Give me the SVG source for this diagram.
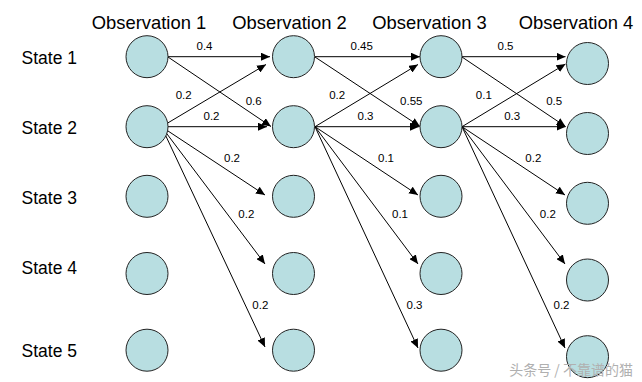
<svg xmlns="http://www.w3.org/2000/svg" width="642" height="382" viewBox="0 0 642 382">
<style>
.node{fill:#B8DEE1;stroke:#222;stroke-width:1}
.hdr{font-family:"Liberation Sans",Arial,sans-serif;font-size:18.4px;fill:#000;text-anchor:middle}
.st{font-family:"Liberation Sans",Arial,sans-serif;font-size:17.5px;fill:#000}
.lbl{font-family:"Liberation Sans",Arial,sans-serif;font-size:11.5px;fill:#000;text-anchor:middle}
.e{stroke:#000;stroke-width:1;fill:none;marker-end:url(#ah)}
.wm{font-family:"Noto Sans CJK SC",sans-serif;font-size:14px;fill:#b0b0b0;text-anchor:end}
</style>
<defs>
<marker id="ah" markerUnits="userSpaceOnUse" markerWidth="10" markerHeight="8" refX="9" refY="4" orient="auto">
<path d="M0,0 L9,4 L0,8 Z" fill="#000"/>
</marker>
</defs>
<rect width="642" height="382" fill="#fff"/>
<g id="headers">
<text class="hdr" x="149" y="29">Observation 1</text>
<text class="hdr" x="289.5" y="29">Observation 2</text>
<text class="hdr" x="429.5" y="29">Observation 3</text>
<text class="hdr" x="576" y="29">Observation 4</text>
</g>
<g id="states">
<text class="st" x="21.5" y="63.5">State 1</text>
<text class="st" x="21.5" y="133.5">State 2</text>
<text class="st" x="21.5" y="203.5">State 3</text>
<text class="st" x="21.5" y="273.5">State 4</text>
<text class="st" x="21.5" y="357">State 5</text>
</g>
<g id="connectors">
<line class="e" x1="168" y1="56.7" x2="270" y2="56.7"/>
<line class="e" x1="168" y1="57" x2="271" y2="126.5"/>
<line class="e" x1="161.5" y1="126.7" x2="266" y2="64.5"/>
<line class="e" x1="161.5" y1="126.7" x2="267" y2="126.7"/>
<line class="e" x1="161.5" y1="126.7" x2="265" y2="195"/>
<line class="e" x1="161.5" y1="126.7" x2="265" y2="264"/>
<line class="e" x1="161.5" y1="126.7" x2="265" y2="347"/>
<line class="e" x1="315" y1="56.7" x2="420" y2="56.7"/>
<line class="e" x1="315" y1="57" x2="420" y2="126.5"/>
<line class="e" x1="315" y1="126.7" x2="418" y2="64.5"/>
<line class="e" x1="315" y1="126.7" x2="419" y2="126.7"/>
<line class="e" x1="315" y1="126.7" x2="418" y2="195"/>
<line class="e" x1="315" y1="126.7" x2="418" y2="264"/>
<line class="e" x1="315" y1="126.7" x2="418" y2="348"/>
<line class="e" x1="462" y1="56.7" x2="565.5" y2="56.7"/>
<line class="e" x1="462" y1="57" x2="565.5" y2="126.5"/>
<line class="e" x1="462" y1="126.7" x2="565.5" y2="64"/>
<line class="e" x1="462" y1="126.7" x2="565.5" y2="126.7"/>
<line class="e" x1="462" y1="126.7" x2="565" y2="195"/>
<line class="e" x1="462" y1="126.7" x2="565" y2="264"/>
<line class="e" x1="462" y1="126.7" x2="565" y2="348"/>
</g>
<g id="edge-labels">
<text class="lbl" x="204.5" y="50">0.4</text>
<text class="lbl" x="183.7" y="99">0.2</text>
<text class="lbl" x="253.7" y="105">0.6</text>
<text class="lbl" x="211.5" y="120">0.2</text>
<text class="lbl" x="232" y="161.7">0.2</text>
<text class="lbl" x="246.3" y="217.7">0.2</text>
<text class="lbl" x="260.3" y="309">0.2</text>
<text class="lbl" x="361.7" y="50">0.45</text>
<text class="lbl" x="337.2" y="99">0.2</text>
<text class="lbl" x="411.3" y="105">0.55</text>
<text class="lbl" x="365.5" y="120">0.3</text>
<text class="lbl" x="386" y="161.7">0.1</text>
<text class="lbl" x="400" y="217.7">0.1</text>
<text class="lbl" x="414.5" y="309">0.3</text>
<text class="lbl" x="505.5" y="50">0.5</text>
<text class="lbl" x="483.8" y="99">0.1</text>
<text class="lbl" x="554.2" y="105">0.5</text>
<text class="lbl" x="512.2" y="120">0.3</text>
<text class="lbl" x="533.3" y="161.7">0.2</text>
<text class="lbl" x="547.8" y="217.7">0.2</text>
<text class="lbl" x="561.5" y="309">0.2</text>
</g>
<g id="o1s1"><circle class="node" cx="147" cy="56.7" r="21"/></g>
<g id="o1s2"><circle class="node" cx="147" cy="126.7" r="21"/></g>
<g id="o1s3"><circle class="node" cx="147" cy="196.3" r="21"/></g>
<g id="o1s4"><circle class="node" cx="147" cy="273.5" r="21"/></g>
<g id="o1s5"><circle class="node" cx="147" cy="350.2" r="21"/></g>
<g id="o2s1"><circle class="node" cx="293.5" cy="56.7" r="21"/></g>
<g id="o2s2"><circle class="node" cx="293.5" cy="126.7" r="21"/></g>
<g id="o2s3"><circle class="node" cx="293.5" cy="196.3" r="21"/></g>
<g id="o2s4"><circle class="node" cx="293.5" cy="273.5" r="21"/></g>
<g id="o2s5"><circle class="node" cx="293.5" cy="350.2" r="21"/></g>
<g id="o3s1"><circle class="node" cx="441" cy="56.7" r="21"/></g>
<g id="o3s2"><circle class="node" cx="441" cy="126.7" r="21"/></g>
<g id="o3s3"><circle class="node" cx="441" cy="196.3" r="21"/></g>
<g id="o3s4"><circle class="node" cx="441" cy="273.5" r="21"/></g>
<g id="o3s5"><circle class="node" cx="441" cy="350.2" r="21"/></g>
<g id="o4s1"><circle class="node" cx="587.5" cy="63.5" r="21"/></g>
<g id="o4s2"><circle class="node" cx="587.5" cy="133.5" r="21"/></g>
<g id="o4s3"><circle class="node" cx="587.5" cy="203.3" r="21"/></g>
<g id="o4s4"><circle class="node" cx="587.5" cy="280" r="21"/></g>
<g id="o4s5"><circle class="node" cx="587.5" cy="356.7" r="21"/></g>
<text class="wm" x="633" y="375">头条号 / 不靠谱的猫</text>
</svg>
